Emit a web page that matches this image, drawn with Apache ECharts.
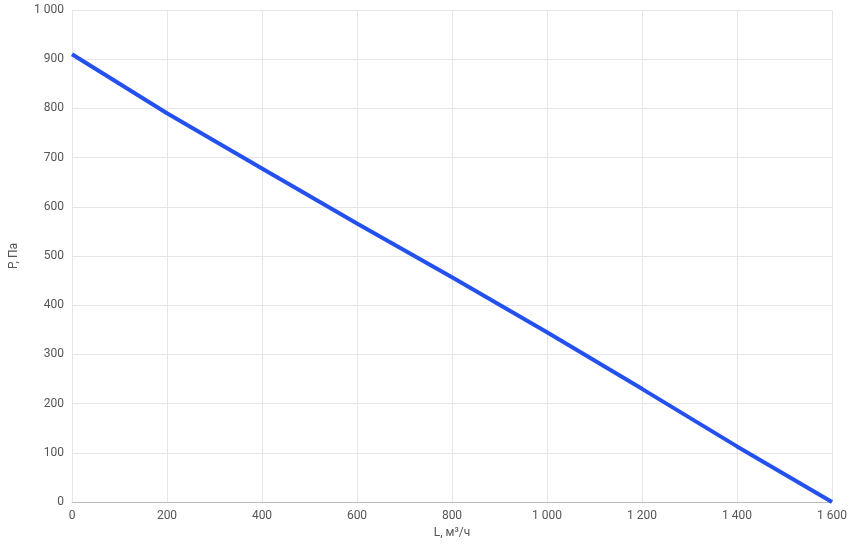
<!DOCTYPE html>
<html>
<head>
<meta charset="utf-8" />
<script src="https://cdn.jsdelivr.net/npm/echarts@6/dist/echarts.min.js"></script>
<style>html,body{margin:0;padding:0;background:#fff}#c{width:851px;height:553px}</style>
</head>
<body>
<div id="c"></div>
<script>
var flow = [0, 200, 400, 600, 800, 1000, 1200, 1400, 1600];
var pressure = [910, 790, 678, 566, 457, 345, 230, 113, 0];

function fmt(v) { return String(v).replace(/\B(?=(\d{3})+(?!\d))/g, ' '); }

var chart = echarts.init(document.getElementById('c'));
chart.setOption({
    animation: false,
    grid: { left: 66, right: 19, top: 10, bottom: 51 },
    xAxis: {
        type: 'value', min: 0, max: 1600, interval: 200,
        name: 'L, м³/ч', nameLocation: 'middle', nameGap: 24,
        nameTextStyle: { color: '#555', fontSize: 12, fontFamily: 'Roboto' },
        axisLine: { lineStyle: { color: '#bbb' } },
        axisTick: { show: false },
        axisLabel: { color: '#555', fontSize: 12, fontFamily: 'Roboto', formatter: fmt },
        splitLine: { show: true, lineStyle: { color: '#e6e6e6' } }
    },
    yAxis: {
        type: 'value', min: 0, max: 1000, interval: 100,
        name: 'P, Па', nameLocation: 'middle', nameGap: 52,
        nameTextStyle: { color: '#555', fontSize: 12, fontFamily: 'Roboto' },
        axisLine: { show: false },
        axisTick: { show: false },
        axisLabel: { color: '#555', fontSize: 12, fontFamily: 'Roboto', formatter: fmt },
        splitLine: { lineStyle: { color: '#e6e6e6' } }
    },
    series: [{
        type: 'line',
        data: flow.map(function (f, i) { return [f, pressure[i]]; }),
        showSymbol: false,
        lineStyle: { color: '#2451ee', width: 4 }
    }]
});
</script>
</body>
</html>
